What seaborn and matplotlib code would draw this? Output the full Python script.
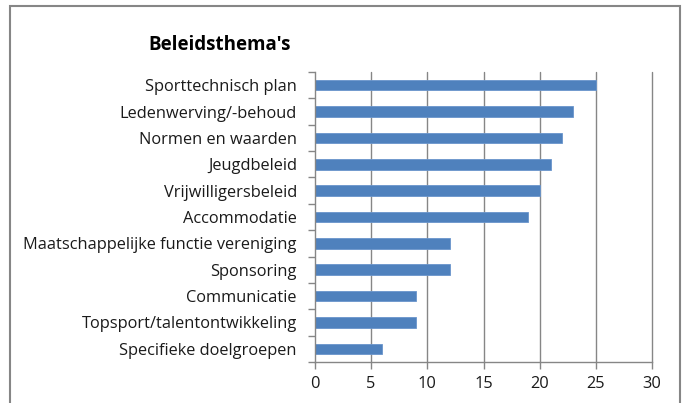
import matplotlib
matplotlib.use("Agg")
import matplotlib.pyplot as plt
import seaborn as sns
import pandas as pd
import numpy as np
from matplotlib.patches import Rectangle

categories = ["Sporttechnisch plan", "Ledenwerving/-behoud", "Normen en waarden",
              "Jeugdbeleid", "Vrijwilligersbeleid", "Accommodatie",
              "Maatschappelijke functie vereniging", "Sponsoring", "Communicatie",
              "Topsport/talentontwikkeling", "Specifieke doelgroepen"]
values = [25, 23, 22, 21, 20, 19, 12, 12, 9, 9, 6]
x_ticks = [0, 5, 10, 15, 20, 25, 30]
title = "Beleidsthema's"

sns.set_theme(style="white")
plt.rcParams['font.family'] = ['Open Sans', 'DejaVu Sans']

df = pd.DataFrame({"cat": categories, "val": values})
fig = plt.figure(figsize=(6.87, 4.03), dpi=100)
W, H = 687, 403
ax = fig.add_axes([315 / W, 1 - 362 / H, (652 - 315) / W, (362 - 72) / H])

sns.barplot(data=df, x="val", y="cat", orient="h", color="#4F81BD",
            width=0.4, edgecolor="#6A95CC", linewidth=0.6, saturation=1, ax=ax)

ax.set_xlim(0, 30)
ax.set_ylim(len(categories) - 0.5, -0.5)
ax.set_xticks(x_ticks)
ax.set_xticklabels([str(t) for t in x_ticks], fontsize=11.8, color="#1a1a1a")
ax.set_xlabel("")
ax.set_ylabel("")
ax.set_yticks(range(len(categories)))
ax.set_yticklabels(categories, fontsize=11.8, color="#1a1a1a")
ax.set_yticks(np.arange(-0.5, len(categories), 1.0), minor=True)
ax.tick_params(axis="y", which="major", length=0, pad=13)
ax.tick_params(axis="y", which="minor", length=5, width=1, color="#868686", left=True)
ax.tick_params(axis="x", which="major", length=5, width=1, color="#868686", bottom=True, pad=5)

ax.grid(False)
for t in x_ticks[1:]:
    ax.axvline(t, color="#868686", linewidth=1, zorder=0, clip_on=False)
ax.set_axisbelow(True)
for s in ["top", "right"]:
    ax.spines[s].set_visible(False)
for s in ["left", "bottom"]:
    ax.spines[s].set_color("#868686")
    ax.spines[s].set_linewidth(1)

fig.text(148 / W, 1 - 45 / H, title, fontsize=13.5, fontweight="bold",
         ha="left", va="center", color="#000000")

fig.patches.append(Rectangle((10 / W, -0.1), (680 - 10) / W, 1 - 6 / H + 0.1,
                             transform=fig.transFigure, fill=False,
                             edgecolor="#868686", linewidth=1.5))

fig.savefig("out.png", dpi=100)
